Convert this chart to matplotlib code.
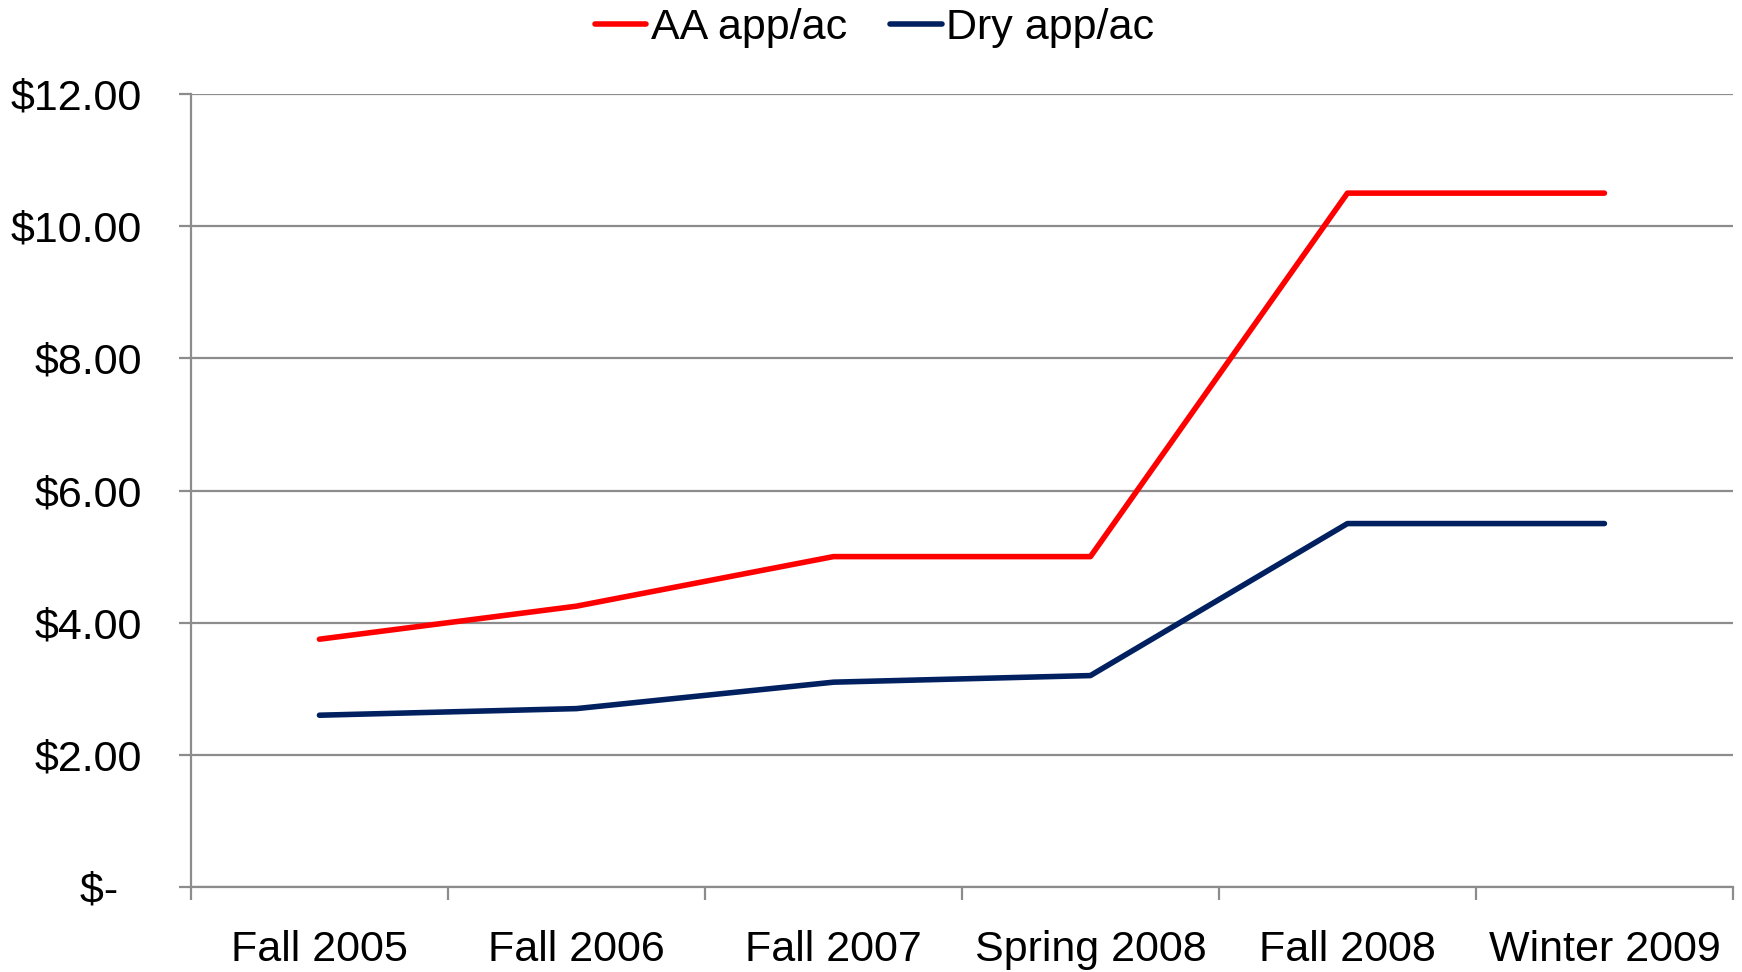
import matplotlib.pyplot as plt
from matplotlib.ticker import FuncFormatter, FixedLocator

categories = ["Fall 2005", "Fall 2006", "Fall 2007", "Spring 2008", "Fall 2008", "Winter 2009"]
aa_app = [3.75, 4.25, 5.00, 5.00, 10.50, 10.50]
dry_app = [2.60, 2.70, 3.10, 3.20, 5.50, 5.50]

plt.rcParams['font.family'] = ['Liberation Sans', 'DejaVu Sans']

fig = plt.figure(figsize=(17.42, 9.72), dpi=100)
ax = fig.add_axes([0.1096, 0.0874, 0.8852, 0.8159])

x = list(range(len(categories)))
ax.plot(x, aa_app, color="#ff0000", lw=4.0, solid_capstyle='round', label="AA app/ac", zorder=3)
ax.plot(x, dry_app, color="#002060", lw=4.0, solid_capstyle='round', label="Dry app/ac", zorder=3)

ax.set_xlim(-0.5, len(categories) - 0.5)
ax.set_ylim(0, 12)
ax.set_yticks([0, 2, 4, 6, 8, 10, 12])


def money(v, pos):
    if v == 0:
        return "$-  "
    return "${:.2f}".format(v)


ax.yaxis.set_major_formatter(FuncFormatter(money))
ax.yaxis.grid(True, color="#8c8c8c", lw=1.6)
ax.set_axisbelow(True)

ax.set_xticks(x)
ax.set_xticklabels(categories)
ax.xaxis.set_minor_locator(FixedLocator([i - 0.5 for i in range(len(categories) + 1)]))
ax.tick_params(axis='x', which='major', length=0, pad=31, labelsize=31)
ax.tick_params(axis='x', which='minor', length=9, width=1.6, color="#8c8c8c")
ax.tick_params(axis='y', length=9, width=1.6, color="#8c8c8c", pad=26, labelsize=31)

for s in ['top', 'right']:
    ax.spines[s].set_visible(False)
for s in ['left', 'bottom']:
    ax.spines[s].set_color("#8c8c8c")
    ax.spines[s].set_linewidth(1.6)

fig.legend(loc='upper center', bbox_to_anchor=(0.502, 1.032), ncol=2, frameon=False,
           fontsize=31, handlelength=1.2, handletextpad=0.1, columnspacing=1.0)

fig.savefig("out.png", dpi=100)
